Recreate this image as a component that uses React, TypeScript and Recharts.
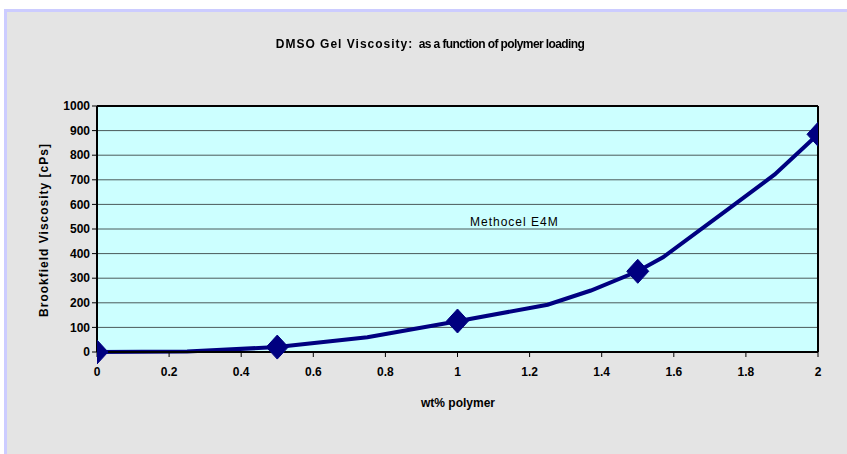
import React from 'react';
import {
  ComposedChart,
  Line,
  XAxis,
  YAxis,
  CartesianGrid,
  ReferenceLine,
} from 'recharts';

// curve points (smoothed line, no markers)
const curveX = [0, 0.25, 0.5, 0.75, 1, 1.25, 1.37, 1.5, 1.57, 1.75, 1.88, 2];
const curveY = [0, 2, 20, 60, 125, 192, 250, 328, 385, 580, 722, 885];

// measured points (diamond markers)
const measuredX = [0, 0.5, 1, 1.5, 2];
const measuredY = [0, 20, 126, 328, 885];

const xTicks = [0, 0.2, 0.4, 0.6, 0.8, 1, 1.2, 1.4, 1.6, 1.8, 2];
const yTicks = [0, 100, 200, 300, 400, 500, 600, 700, 800, 900, 1000];

const curveData = curveX.map((x, i) => ({ x, y: curveY[i] }));
const measuredData = measuredX.map((x, i) => ({ x, y: measuredY[i] }));

const NAVY = '#000080';
const FONT = '"Liberation Sans Narrow", "Arial Narrow", Arial, "Liberation Sans", sans-serif';

const Diamond = (props: any) => {
  const { cx, cy } = props;
  if (cx == null || cy == null) return null;
  return (
    <path
      d={`M${cx},${cy - 12} L${cx + 11},${cy} L${cx},${cy + 12} L${cx - 11},${cy} Z`}
      fill={NAVY}
      stroke={NAVY}
    />
  );
};

const App = () => {
  return (
    <div style={{ position: 'fixed', left: 0, top: 0, width: 847, height: 454, background: '#fff', fontFamily: FONT }}>
      <div
        style={{
          position: 'absolute',
          left: 4,
          top: 9,
          width: 843,
          height: 445,
          background: '#e4e4e4',
          borderTop: '3px solid #ccccff',
          borderLeft: '3px solid #ccccff',
          boxSizing: 'border-box',
        }}
      />
      <div style={{ position: 'absolute', left: 0, top: 0 }}>
        <ComposedChart
          width={847}
          height={454}
          margin={{ top: 106, right: 29, bottom: 72, left: 52 }}
        >
          <CartesianGrid vertical={false} fill="#ccffff" stroke="#4a5a5a" strokeWidth={1} />
          <XAxis
            type="number"
            dataKey="x"
            domain={[0, 2]}
            ticks={xTicks}
            tickFormatter={(v: number) => String(Math.round(v * 10) / 10)}
            axisLine={{ stroke: '#000', strokeWidth: 2 }}
            tickLine={{ stroke: '#000' }}
            tickSize={5}
            tickMargin={10}
            height={30}
            tick={{ fill: '#000', fontSize: 12, fontWeight: 'bold', fontFamily: FONT }}
            allowDataOverflow
          />
          <YAxis
            type="number"
            dataKey="y"
            domain={[0, 1000]}
            ticks={yTicks}
            axisLine={{ stroke: '#000', strokeWidth: 2 }}
            tickLine={{ stroke: '#000' }}
            tickSize={5}
            tickMargin={2}
            width={45}
            tick={{ fill: '#000', fontSize: 12, fontWeight: 'bold', fontFamily: FONT }}
            interval={0}
          />
          <ReferenceLine y={1000} stroke="#000" strokeWidth={2} />
          <ReferenceLine x={2} stroke="#000" strokeWidth={2} />
          <Line
            data={curveData}
            dataKey="y"
            type="linear"
            stroke={NAVY}
            strokeWidth={4}
            dot={false}
            activeDot={false}
            isAnimationActive={false}
          />
          <Line
            data={measuredData}
            dataKey="y"
            type="linear"
            stroke="none"
            dot={<Diamond />}
            activeDot={false}
            isAnimationActive={false}
          />
        </ComposedChart>
      </div>
      <div
        style={{
          position: 'absolute',
          left: 0,
          width: 860,
          top: 37,
          textAlign: 'center',
          fontSize: 12,
          fontWeight: 'bold',
          color: '#000',
          whiteSpace: 'nowrap',
        }}
      >
        <span style={{ letterSpacing: 1 }}>DMSO Gel Viscosity:</span>
        <span style={{ letterSpacing: -0.6 }}>&nbsp; as a function of polymer loading</span>
      </div>
      <div
        style={{
          position: 'absolute',
          left: 470,
          top: 215,
          fontSize: 12,
          letterSpacing: 1,
          color: '#000',
          fontFamily: 'Arial, "Liberation Sans", sans-serif',
          whiteSpace: 'nowrap',
        }}
      >
        Methocel E4M
      </div>
      <div
        style={{
          position: 'absolute',
          left: 358,
          width: 200,
          top: 396,
          textAlign: 'center',
          fontSize: 12,
          fontWeight: 'bold',
          color: '#000',
        }}
      >
        wt% polymer
      </div>
      <div
        style={{
          position: 'absolute',
          left: 44,
          top: 230,
          transform: 'translate(-50%, -50%) rotate(-90deg)',
          fontSize: 12,
          fontWeight: 900,
          letterSpacing: 1,
          color: '#000',
          whiteSpace: 'nowrap',
        }}
      >
        Brookfield Viscosity [cPs]
      </div>
    </div>
  );
};

export default App;
